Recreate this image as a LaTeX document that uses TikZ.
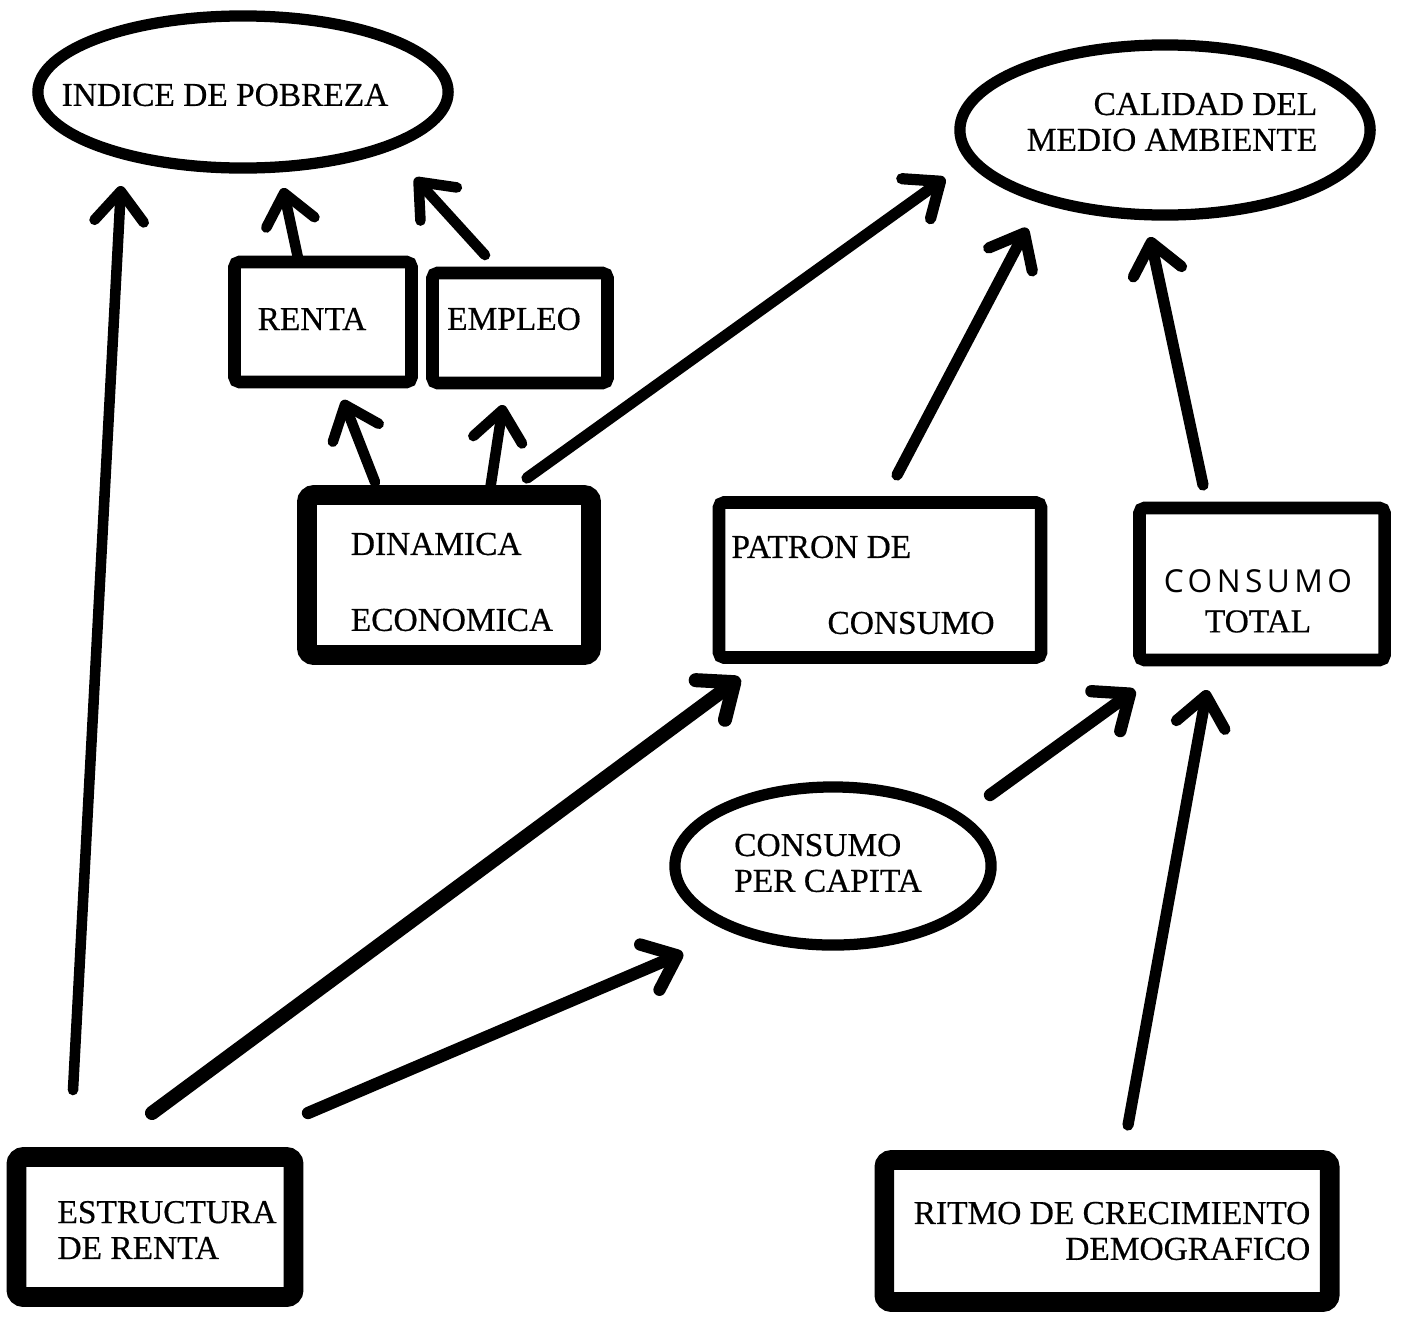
\documentclass[tikz,border=0pt]{standalone}
\usepackage{fontspec}
\setmainfont{Liberation Serif}[FakeBold=0.5]
\newfontfamily\handfont[LetterSpace=14]{Open Sans}
\usetikzlibrary{arrows.meta,calc,shapes.geometric}

\begin{document}
\begin{tikzpicture}[x=0.01cm,y=-0.01cm,
  every node/.style={inner sep=0pt, outer sep=0pt},
  oval/.style={ellipse, draw, line width=3.2pt},
  thinbox/.style={rectangle, draw, line width=3.6pt, rounded corners=1.5pt},
  thickbox/.style={rectangle, draw, line width=5.6pt, rounded corners=2pt},
  txt/.style={font=\fontsize{9.5pt}{10.2pt}\selectfont},
  arr/.style={line width=3pt, line cap=round, line join=round,
    -{Straight Barb[length=8.5pt,width=14pt,round]}},
  ]
\fill[white] (0,0) rectangle (1401,1318);
\useasboundingbox (0,0) rectangle (1401,1318);

% shapes
\node[oval, minimum width=4.1cm, minimum height=1.52cm] (indice) at (243,92) {};
\node[oval, minimum width=4.1cm, minimum height=1.7cm] (calidad) at (1165,130) {};
\node[oval, minimum width=3.16cm, minimum height=1.58cm] (percap) at (833,866) {};
\node[thinbox, minimum width=1.77cm, minimum height=1.2cm] (renta) at (323,322) {};
\node[thinbox, minimum width=1.75cm, minimum height=1.1cm] (empleo) at (520,328) {};
\node[thickbox, minimum width=2.84cm, minimum height=1.6cm] (din) at (449,575) {};
\node[thinbox, minimum width=3.22cm, minimum height=1.55cm] (patron) at (880,580) {};
\node[thinbox, minimum width=2.45cm, minimum height=1.52cm] (ctotal) at (1262,584) {};
\node[thickbox, minimum width=2.77cm, minimum height=1.4cm] (estr) at (155,1227) {};
\node[thickbox, minimum width=4.45cm, minimum height=1.42cm] (ritmo) at (1107,1231) {};

% labels
\node[txt] (indice-t) at (225,95) {INDICE DE POBREZA};
\node[txt, align=right] (calidad-t) at (1172,122) {CALIDAD DEL\\MEDIO AMBIENTE};
\node[txt] (renta-t) at (312,319) {RENTA};
\node[txt] (empleo-t) at (514,319) {EMPLEO};
\node[txt, align=left] (din-t) at (452,582) {DINAMICA\\[11.4pt]ECONOMICA};
\node[txt, align=left] (patron-t) at (863,585) {PATRON DE\\[11.4pt]\hspace*{9.6mm}CONSUMO};
\node[txt, align=center] (ctotal-t) at (1258,601) {{\handfont\fontsize{9pt}{10pt}\selectfont CONSUMO}\\[1.2pt]TOTAL};
\node[txt, align=left] (percap-t) at (828,863) {CONSUMO\\PER CAPITA};
\node[txt, align=left] (estr-t) at (167,1230) {ESTRUCTURA\\DE RENTA};
\node[txt, align=right] (ritmo-t) at (1112,1231) {RITMO DE CRECIMIENTO\\DEMOGRAFICO};

% influences
\draw[arr] ($(estr)+(-82,-137)$) -- ($(indice)+(-122,94)$);
\draw[arr] ($(renta)+(-25,-64)$) -- ($(indice)+(40,96)$);
\draw[arr] ($(empleo)+(-35,-73)$) -- ($(indice)+(172,86)$);
\draw[arr] ($(din)+(-74,-93)$) -- ($(renta)+(20,78)$);
\draw[arr] ($(din)+(41,-85)$) -- ($(empleo)+(-17,77)$);
\draw[arr, line width=3.2pt] ($(din)+(78,-97)$) -- ($(calidad)+(-220,48)$);
\draw[arr, line width=3.2pt] ($(patron)+(17,-105)$) -- ($(calidad)+(-138,98)$);
\draw[arr, line width=3.2pt] ($(ctotal)+(-59,-99)$) -- ($(calidad)+(-15,107)$);
\draw[arr, line width=4pt] ($(estr)+(-3,-114)$) -- ($(patron)+(-140,98)$);
\draw[arr, line width=3.5pt] ($(estr)+(153,-114)$) -- ($(percap)+(-150,87)$);
\draw[arr, line width=3.5pt] ($(percap)+(157,-71)$) -- ($(ctotal)+(-127,106)$);
\draw[arr, line width=3.2pt] ($(ritmo)+(21,-106)$) -- ($(ctotal)+(-55,106)$);
\end{tikzpicture}
\end{document}
